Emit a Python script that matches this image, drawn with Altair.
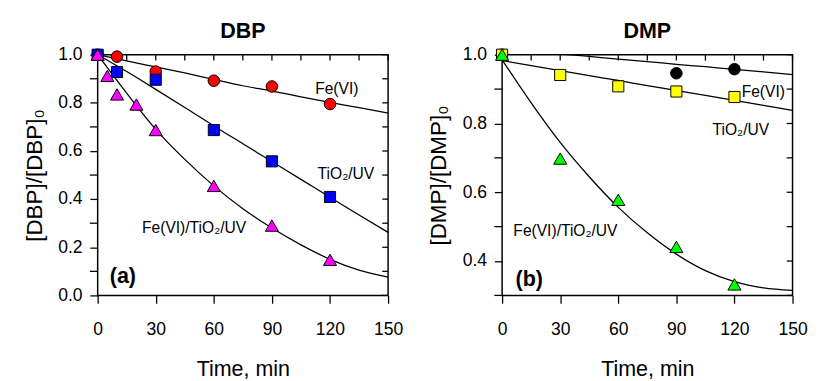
import altair as alt
import pandas as pd

FONT = "Liberation Sans"

# ---------------- data ----------------
# Panel (a) DBP – measured points
dbp_fe_t = [0, 10, 30, 60, 90, 120]
dbp_fe_v = [1.0, 0.992, 0.93, 0.892, 0.868, 0.795]
dbp_tio2_t = [0, 10, 30, 60, 90, 120]
dbp_tio2_v = [1.0, 0.928, 0.896, 0.687, 0.557, 0.409]
dbp_comb_t = [0, 5, 10, 20, 30, 60, 90, 120]
dbp_comb_v = [1.0, 0.912, 0.835, 0.793, 0.687, 0.455, 0.29, 0.148]

# Panel (b) DMP – measured points
dmp_fe_t = [0, 90, 120]
dmp_fe_v = [1.0, 0.946, 0.958]
dmp_tio2_t = [0, 30, 60, 90, 120]
dmp_tio2_v = [1.0, 0.941, 0.908, 0.893, 0.877]
dmp_comb_t = [0, 30, 60, 90, 120]
dmp_comb_v = [1.0, 0.698, 0.578, 0.441, 0.332]

# fitted curves, every 15 min
fit_t = [0, 15, 30, 45, 60, 75, 90, 105, 120, 135, 150]
dbp_fe_fit = [1.0, 0.974, 0.949, 0.924, 0.897, 0.871, 0.849, 0.825, 0.802, 0.780, 0.757]
dbp_tio2_fit = [1.0, 0.93, 0.856, 0.781, 0.704, 0.630, 0.556, 0.482, 0.408, 0.334, 0.262]
dbp_comb_fit = [1.0, 0.84, 0.69, 0.565, 0.455, 0.36, 0.28, 0.21, 0.15, 0.105, 0.076]
dmp_fe_fit = [1.017, 1.01, 1.002, 0.995, 0.987, 0.98, 0.972, 0.965, 0.957, 0.95, 0.942]
dmp_tio2_fit = [0.983, 0.968, 0.954, 0.939, 0.925, 0.91, 0.896, 0.882, 0.867, 0.853, 0.838]
dmp_comb_fit = [0.985, 0.86, 0.745, 0.645, 0.556, 0.482, 0.42, 0.372, 0.34, 0.322, 0.315]

# ticks
x_ticks = [0, 15, 30, 45, 60, 75, 90, 105, 120, 135, 150]
y_major_a = [0.0, 0.2, 0.4, 0.6, 0.8, 1.0]
y_minor_a = [0.1, 0.3, 0.5, 0.7, 0.9]
y_major_b = [0.4, 0.6, 0.8, 1.0]
y_minor_b = [0.3, 0.5, 0.7, 0.9]

W, H = 298, 247


def pts(t, v):
    return pd.DataFrame({"t": t, "v": v})


def panel(title, ytitle, ydomain, ymajor, yminor, fits, points, labels):
    xs = alt.Scale(domain=[0, 150], nice=False, zero=False)
    ys = alt.Scale(domain=ydomain, nice=False, zero=False)
    yall = sorted(ymajor + yminor)

    bottom_axis = alt.Axis(
        orient="bottom", values=x_ticks, labelFlush=False, labelOverlap=False,
        labelExpr="datum.value % 30 == 0 ? datum.label : ''", tickSize=8,
        tickColor="black", tickWidth=1.3, domain=False, grid=False,
        labelFont=FONT, labelFontSize=18, labelColor="black", labelPadding=18,
        title="Time, min", titleFont=FONT, titleFontSize=22, titleFontWeight="normal",
        titleColor="black", titlePadding=21)
    left_axis = alt.Axis(
        orient="left", values=ymajor, format=".1f", labelFlush=False, labelOverlap=False,
        tickSize=8, tickColor="black", tickWidth=1.3, domain=False, grid=False,
        labelFont=FONT, labelFontSize=18, labelColor="black", labelPadding=8,
        title=ytitle, titleFont=FONT, titleFontSize=23, titleFontWeight="normal",
        titleColor="black", titlePadding=12)

    layers = []
    for i, (vals, clip) in enumerate(fits):
        df = pd.DataFrame({"t": fit_t, "v": vals})
        if i == 0:
            enc = dict(x=alt.X("t:Q", scale=xs, axis=bottom_axis),
                       y=alt.Y("v:Q", scale=ys, axis=left_axis))
        else:
            enc = dict(x=alt.X("t:Q", scale=xs), y=alt.Y("v:Q", scale=ys))
        mk = dict(color="black", strokeWidth=1.3, interpolate="monotone")
        if clip:
            mk["clip"] = True
        layers.append(alt.Chart(df).mark_line(**mk).encode(**enc))
    # outward minor ticks on the left axis
    layers.append(alt.Chart(pd.DataFrame({"v": yminor})).mark_rule(
        color="black", strokeWidth=1.3).encode(
        y=alt.Y("v:Q", scale=ys), x=alt.value(-8), x2=alt.value(0)))
    # inward ticks on the top and right frame
    layers.append(alt.Chart(pd.DataFrame({"t": x_ticks})).mark_rule(
        color="black", strokeWidth=1.3).encode(
        x=alt.X("t:Q", scale=xs), y=alt.value(0), y2=alt.value(6)))
    layers.append(alt.Chart(pd.DataFrame({"v": yall})).mark_rule(
        color="black", strokeWidth=1.3).encode(
        y=alt.Y("v:Q", scale=ys), x=alt.value(W - 6), x2=alt.value(W)))
    for (df, shape, color, size) in points:
        layers.append(alt.Chart(df).mark_point(shape=shape, filled=True, fill=color,
                                               stroke="black", strokeWidth=1, size=size,
                                               opacity=1).encode(
            x=alt.X("t:Q", scale=xs), y=alt.Y("v:Q", scale=ys)))
    for (txt, tx, ty, fsize, weight) in labels:
        layers.append(alt.Chart(pd.DataFrame({"a": [0]})).mark_text(
            font=FONT, fontSize=fsize, fontWeight=weight, color="black",
            align="center", baseline="middle").encode(
            x=alt.X(datum=tx, scale=xs),
            y=alt.Y(datum=ty, scale=ys),
            text=alt.value(txt)))
    # panel title placed just above the frame
    layers.append(alt.Chart(pd.DataFrame({"a": [0]})).mark_text(
        font=FONT, fontSize=22, fontWeight="bold", color="black",
        align="center", baseline="alphabetic").encode(
        x=alt.value(W / 2), y=alt.value(-17), text=alt.value(title)))

    return alt.layer(*layers).properties(width=W, height=H)


left = panel(
    "DBP", "[DBP]/[DBP]₀", [0, 1.0], y_major_a, y_minor_a,
    [(dbp_tio2_fit, False), (dbp_comb_fit, False), (dbp_fe_fit, False)],
    [(pts(dbp_fe_t, dbp_fe_v), "circle", "#ff0000", 140),
     (pts(dbp_tio2_t, dbp_tio2_v), "square", "#0000ff", 130),
     (pts(dbp_comb_t, dbp_comb_v), "triangle-up", "#ff00ff", 180)],
    [("Fe(VI)", 123.5, 0.856, 16, "normal"),
     ("TiO₂/UV", 128.2, 0.505, 16, "normal"),
     ("Fe(VI)/TiO₂/UV", 49.8, 0.28, 16, "normal"),
     ("(a)", 13, 0.08, 22, "bold")])

right = panel(
    "DMP", "[DMP]/[DMP]₀", [0.3, 1.0], y_major_b, y_minor_b,
    [(dmp_tio2_fit, False), (dmp_comb_fit, False), (dmp_fe_fit, True)],
    [(pts(dmp_fe_t, dmp_fe_v), "circle", "#000000", 140),
     (pts(dmp_tio2_t, dmp_tio2_v), "square", "#ffff00", 130),
     (pts(dmp_comb_t, dmp_comb_v), "triangle-up", "#00ff00", 180)],
    [("Fe(VI)", 134.9, 0.89, 16, "normal"),
     ("TiO₂/UV", 123.3, 0.78, 16, "normal"),
     ("Fe(VI)/TiO₂/UV", 32.7, 0.488, 16, "normal"),
     ("(b)", 14, 0.346, 22, "bold")])

chart = alt.hconcat(left, right, spacing=117, bounds="flush").configure(
    padding={"left": 15, "top": 7, "right": 5, "bottom": 0}
).configure_view(stroke="black", strokeWidth=1.5)

chart.save("out.html", embed_options={"renderer": "svg", "actions": False})
